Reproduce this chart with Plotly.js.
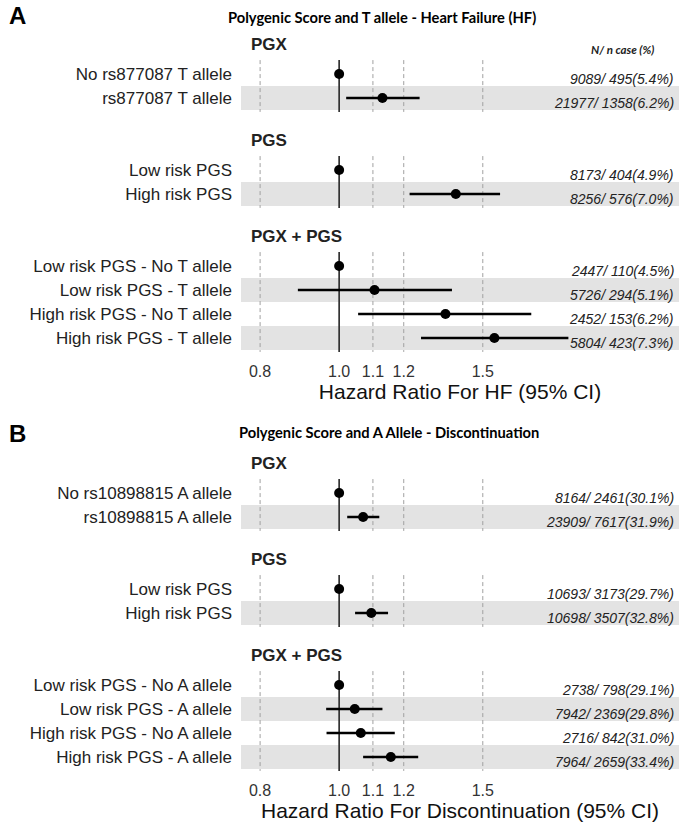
<!DOCTYPE html>
<html>
<head>
<meta charset="utf-8">
<script src="https://cdn.plot.ly/plotly-3.0.1.min.js"></script>
<style>html,body{margin:0;padding:0;background:#fff}#chart{width:685px;height:824px}</style>
</head>
<body>
<div id="chart"></div>
<script>
// ---------- DATA ----------
const groupNames = ["PGX", "PGS", "PGX + PGS"];
const rowGroup = [0, 0, 1, 1, 2, 2, 2, 2];

const labelsA = ["No rs877087 T allele", "rs877087 T allele", "Low risk PGS", "High risk PGS",
  "Low risk PGS - No T allele", "Low risk PGS - T allele", "High risk PGS - No T allele", "High risk PGS - T allele"];
const hrA   = [1.00, 1.13,  1.00, 1.39,  1.00, 1.105, 1.35, 1.55];
const lowA  = [null, 1.02,  null, 1.22,  null, 0.89,  1.055, 1.26];
const highA = [null, 1.255, null, 1.575, null, 1.375, 1.72, 1.91];
const countsA = ["9089/ 495(5.4%)", "21977/ 1358(6.2%)", "8173/ 404(4.9%)", "8256/ 576(7.0%)",
  "2447/ 110(4.5%)", "5726/ 294(5.1%)", "2452/ 153(6.2%)", "5804/ 423(7.3%)"];

const labelsB = ["No rs10898815 A allele", "rs10898815 A allele", "Low risk PGS", "High risk PGS",
  "Low risk PGS - No A allele", "Low risk PGS - A allele", "High risk PGS - No A allele", "High risk PGS - A allele"];
const hrB   = [1.00, 1.07,  1.00, 1.095, 1.00, 1.045, 1.063, 1.157];
const lowB  = [null, 1.023, null, 1.046, null, 0.964, 0.965, 1.07];
const highB = [null, 1.12,  null, 1.148, null, 1.13,  1.17,  1.25];
const countsB = ["8164/ 2461(30.1%)", "23909/ 7617(31.9%)", "10693/ 3173(29.7%)", "10698/ 3507(32.8%)",
  "2738/ 798(29.1%)", "7942/ 2369(29.8%)", "2716/ 842(31.0%)", "7964/ 2659(33.4%)"];

const refLines = [0.8, 1.1, 1.2, 1.5];
const tickVals = [0.8, 1.0, 1.1, 1.2, 1.5];
const tickText = ["0.8", "1.0", "1.1", "1.2", "1.5"];

const titleA = "Polygenic Score and T allele - Heart Failure (HF)";
const titleB = "Polygenic Score and A Allele - Discontinuation";
const xTitleA = "Hazard Ratio For HF (95% CI)";
const xTitleB = "Hazard Ratio For Discontinuation (95% CI)";
const countHeader = "N/ n case (%)";

// ---------- BUILD ----------
const pos = rowGroup.map((g, i) => i + 2 * g);
const groupSpans = groupNames.map((_, g) => {
  const p = pos.filter((_, i) => rowGroup[i] === g);
  return [Math.min(...p), Math.max(...p)];
});

const W = 685, H = 824;
const xDomain = [241 / W, 679 / W];
const yRange = [11.6, -1.9];
const SANS = "Liberation Sans, Arial, sans-serif";

function panelTraces(xa, ya, hr, lo, hi) {
  const traces = [];
  const dx = [], dy = [];
  refLines.forEach(v => groupSpans.forEach(([a, b]) => {
    dx.push(v, v, null); dy.push(a - 0.58, b + 0.58, null);
  }));
  traces.push({x: dx, y: dy, xaxis: xa, yaxis: ya, mode: "lines", hoverinfo: "skip",
    line: {color: "#a0a0a0", width: 1, dash: "4px,3px"}, showlegend: false});
  const sx = [], sy = [];
  groupSpans.forEach(([a, b]) => { sx.push(1, 1, null); sy.push(a - 0.58, b + 0.58, null); });
  traces.push({x: sx, y: sy, xaxis: xa, yaxis: ya, mode: "lines", hoverinfo: "skip",
    line: {color: "#333", width: 1.7}, showlegend: false});
  traces.push({
    x: hr, y: pos, xaxis: xa, yaxis: ya, mode: "markers", showlegend: false,
    marker: {color: "#000", size: 10},
    error_x: {type: "data", symmetric: false,
      array: hi.map((h, i) => h == null ? 0 : h - hr[i]),
      arrayminus: lo.map((l, i) => l == null ? 0 : hr[i] - l),
      color: "#000", thickness: 2.5, width: 0}
  });
  return traces;
}

const data = [
  ...panelTraces("x", "y", hrA, lowA, highA),
  ...panelTraces("x2", "y2", hrB, lowB, highB)
];

const shapes = [];
const annotations = [];
function panelDecor(xa, ya, labels, counts, title, titleX, titleY, letter, letterY, headerY) {
  groupSpans.forEach(([a, b]) => {
    for (let p = a + 1; p <= b; p += 2) {
      shapes.push({type: "rect", xref: xa + " domain", yref: ya, x0: 0, x1: 1,
        y0: p - 0.5, y1: p + 0.5, fillcolor: "#e3e3e3", line: {width: 0}, layer: "below"});
    }
  });
  groupNames.forEach((g, i) => {
    annotations.push({text: "<b>" + g + "</b>", xref: "paper", yref: ya, x: 249 / W,
      y: groupSpans[i][0] - 1.25, xanchor: "left", yanchor: "middle", showarrow: false,
      font: {family: SANS, size: 17, color: "#222"}});
  });
  counts.forEach((c, i) => {
    annotations.push({text: c, xref: "paper", yref: ya, x: 676 / W, y: pos[i], yshift: -5,
      xanchor: "right", yanchor: "middle", showarrow: false,
      font: {family: SANS, size: 14, color: "#222", style: "italic"}});
  });
  annotations.push({text: "<b>" + title + "</b>", xref: "paper", yref: "paper",
    x: titleX / W, y: 1 - titleY / H, xanchor: "center", yanchor: "middle", showarrow: false,
    font: {family: "Lato", size: 14.7, color: "#000"}});
  annotations.push({text: "<b>" + letter + "</b>", xref: "paper", yref: "paper",
    x: 7 / W, y: 1 - letterY / H, xanchor: "left", yanchor: "middle", showarrow: false,
    font: {family: SANS, size: 24, color: "#000"}});
  if (headerY != null) {
    annotations.push({text: "<b><i>" + countHeader + "</i></b>", xref: "paper", yref: "paper",
      x: 622 / W, y: 1 - headerY / H, xanchor: "center", yanchor: "middle", showarrow: false,
      font: {family: "Lato", size: 11.5, color: "#222"}});
  }
}
panelDecor("x", "y", labelsA, countsA, titleA, 382, 17, "A", 16, 50);
panelDecor("x2", "y2", labelsB, countsB, titleB, 389, 432, "B", 433, null);

function xAxis(anchor, title) {
  return {
    type: "log", domain: xDomain, anchor: anchor,
    range: [Math.log10(0.758), Math.log10(2.61)],
    tickvals: tickVals, ticktext: tickText, ticks: "", showgrid: false, zeroline: false, showline: false,
    ticklabelstandoff: 8,
    tickfont: {family: SANS, size: 16, color: "#333"},
    title: {text: title, font: {family: SANS, size: 21, color: "#111"}, standoff: 4},
    fixedrange: true
  };
}
function yAxis(anchor, domain, labels) {
  return {
    domain: domain, anchor: anchor, range: yRange, tickvals: pos, ticktext: labels,
    ticks: "", showgrid: false, zeroline: false, showline: false, ticklabelstandoff: 8,
    tickfont: {family: SANS, size: 17, color: "#222"}, fixedrange: true
  };
}

const layout = {
  width: W, height: H, margin: {l: 0, r: 0, t: 0, b: 0},
  paper_bgcolor: "#fff", plot_bgcolor: "rgba(0,0,0,0)", showlegend: false,
  xaxis: xAxis("y", xTitleA),
  yaxis: yAxis("x", [1 - 352.4 / H, 1 - 28.4 / H], labelsA),
  xaxis2: xAxis("y2", xTitleB),
  yaxis2: yAxis("x2", [1 - 771.4 / H, 1 - 447.4 / H], labelsB),
  shapes: shapes, annotations: annotations
};

Plotly.newPlot("chart", data, layout, {displayModeBar: false, staticPlot: true});
</script>
</body>
</html>
